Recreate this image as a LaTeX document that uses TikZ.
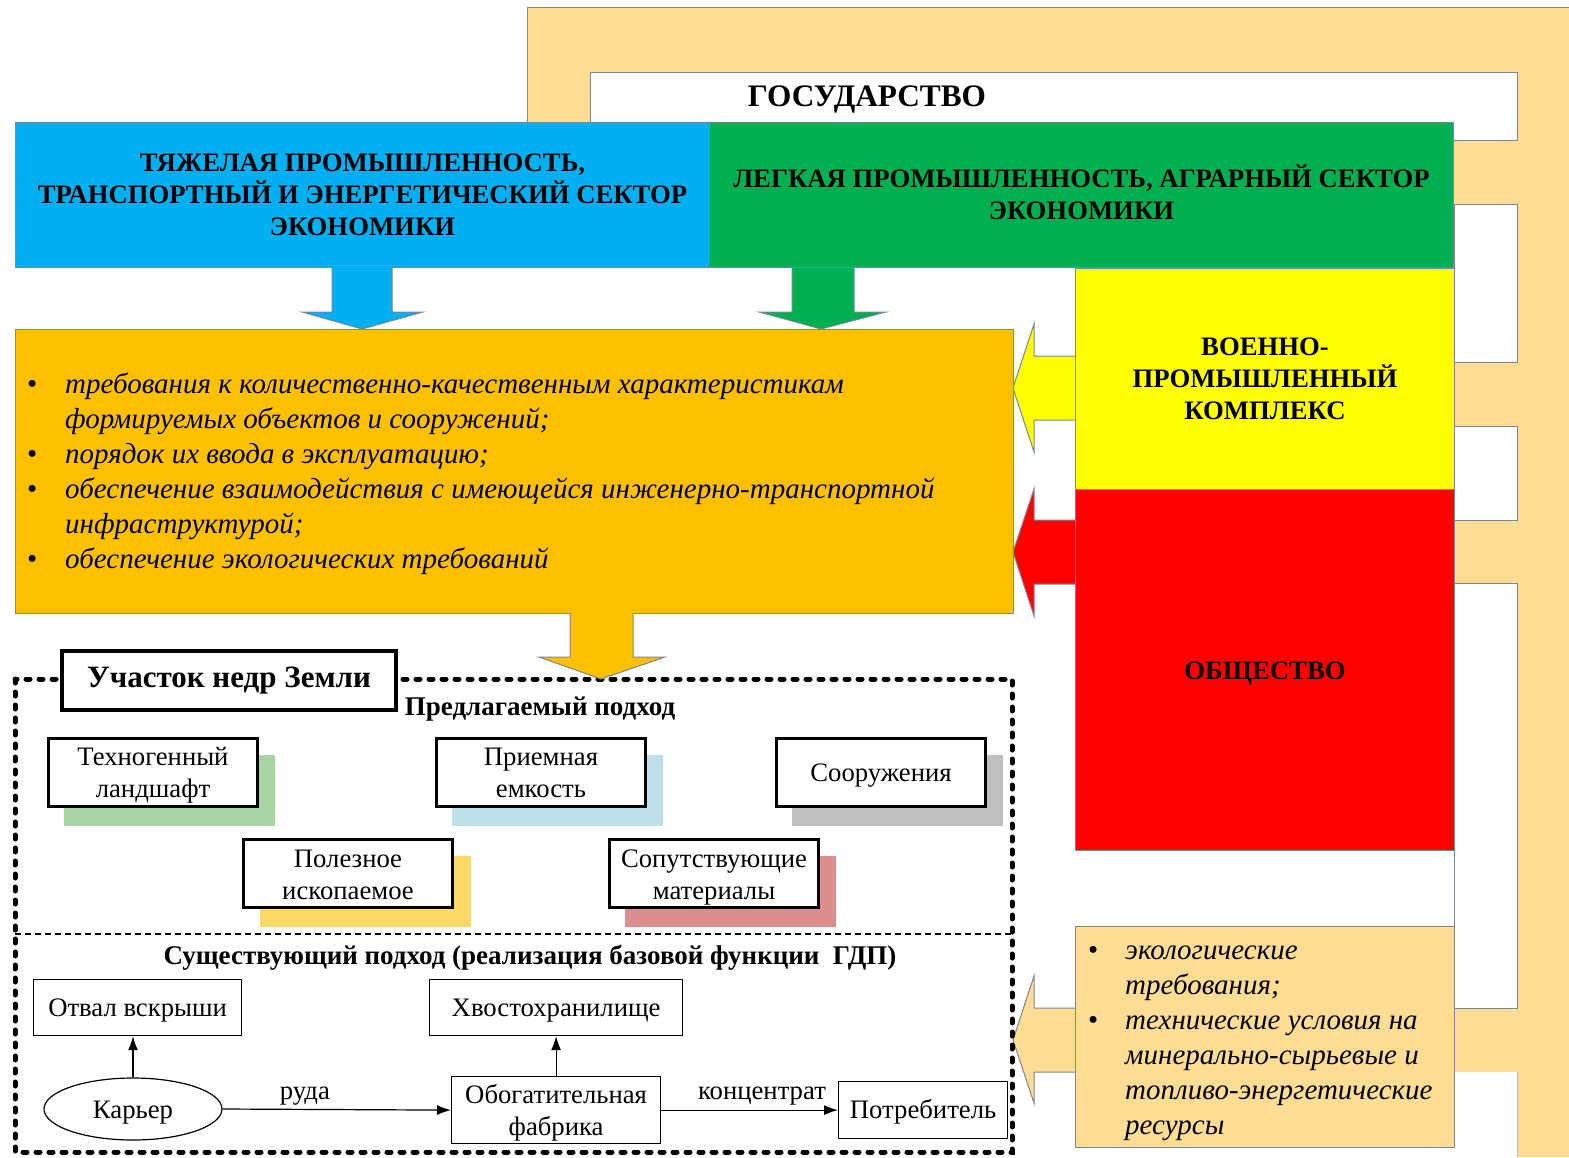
\documentclass[tikz,border=0pt]{standalone}
\usepackage{fontspec}
\setmainfont{Liberation Serif}
\usetikzlibrary{arrows.meta,calc,shapes.geometric}

\definecolor{cblue}{HTML}{00B0F0}
\definecolor{cgreen}{HTML}{00B050}
\definecolor{cyellow}{HTML}{FFFF00}
\definecolor{cred}{HTML}{FF0000}
\definecolor{corange}{HTML}{FFC000}
\definecolor{cbeige}{HTML}{FFDD95}
\definecolor{edge}{HTML}{7A8699}
\definecolor{shgreen}{HTML}{A8D4A8}
\definecolor{shblue}{HTML}{BDE1EA}
\definecolor{shgray}{HTML}{BFBFBF}
\definecolor{shyellow}{HTML}{FFD966}
\definecolor{shpink}{HTML}{DC8E8E}

\tikzset{
  panel/.style={draw=edge, line width=1pt, inner sep=0pt, anchor=north west},
  capsfont/.style={font={\fontsize{26.7}{32}\selectfont\bfseries}, align=center},
  capsbold/.style={capsfont},
  % caption placed at the centre of a box, shifted by #1 to sit on the optical middle
  caps/.style 2 args={label={[capsfont, yshift=#1]center:{#2}}},
  plainfont/.style={font={\fontsize{26.7}{32}\selectfont}, align=center},
  txt/.style 2 args={label={[plainfont, yshift=#1]center:{#2}}},
  blockarrow/.style={draw=edge, line width=1pt, line join=miter},
  itembox/.style={draw=black, line width=3pt, fill=white, inner sep=0pt, anchor=north west,
    minimum width=209, minimum height=68},
  shade/.style={inner sep=0pt, anchor=north west, minimum width=211, minimum height=71},
  flowbox/.style={draw=black, line width=1.2pt, fill=white, inner sep=0pt, anchor=north west},
  flow/.style={line width=1.2pt, -{Latex[length=14pt,width=10pt]}},
  dotframe/.style={line width=5pt, line cap=round, dash pattern=on 4pt off 9pt},
  listtext/.style={anchor=west, align=left, inner sep=0pt,
    font={\fontsize{29}{35}\selectfont\itshape}},
  headline/.style={font={\fontsize{27}{32}\selectfont\bfseries}},
  flowlabel/.style={above, inner sep=4pt, font={\fontsize{26.7}{32}\selectfont}},
}
\newcommand\bul[1]{\llap{\makebox[#1][l]{\upshape\textbullet}}}

\begin{document}
\begin{tikzpicture}[x=1pt,y=-1pt]
\useasboundingbox (0,0) rectangle (1569,1157);

% beige frame around the state box
\fill[cbeige] (527,7) rectangle (1569,72);
\fill[cbeige] (527,72) rectangle (590,130);
\fill[cbeige] (1517,7) rectangle (1569,1157);
\fill[cbeige] (1440,140) rectangle (1517,204);
\fill[cbeige] (1440,362) rectangle (1517,426);
\fill[cbeige] (1440,520) rectangle (1517,583);
\fill[cbeige] (1440,1008) rectangle (1517,1072);
\draw[edge, line width=1pt] (1569,7) -- (527,7) -- (527,122);
\draw[edge!60, line width=0.8pt] (1517,1072) -- (1517,1157);

% white gaps of the frame
\node[panel, fill=white, minimum width=927, minimum height=68] (state) at (590,72) {};
\node[panel, fill=white, minimum width=63, minimum height=158] (gap1) at (1454,204) {};
\node[panel, fill=white, minimum width=63, minimum height=94] (gap2) at (1454,426) {};
\node[panel, fill=white, minimum width=63, minimum height=425] (gap3) at (1454,583) {};
\node[font={\fontsize{31.3}{36}\selectfont\bfseries}] (statelbl) at (867,99) {ГОСУДАРСТВО};

% block arrows
\filldraw[blockarrow, fill=cblue] (332,267) -- (332,312) -- (302,312) -- (362,329) -- (423,312) -- (392,312) -- (392,267);
\filldraw[blockarrow, fill=cgreen] (792,267) -- (792,312) -- (759,312) -- (821,329) -- (886,312) -- (854,312) -- (854,267);
\filldraw[blockarrow, fill=cyellow] (1075,356) -- (1034,356) -- (1034,324) -- (1013,388) -- (1034,452) -- (1034,420) -- (1075,420);
\filldraw[blockarrow, fill=cred] (1075,520) -- (1034,520) -- (1034,489) -- (1013,552) -- (1034,616) -- (1034,584) -- (1075,584);
\filldraw[blockarrow, fill=cbeige] (1075,1008) -- (1034,1008) -- (1034,976) -- (1013,1040) -- (1034,1103) -- (1034,1072) -- (1075,1072);

% sector boxes
\node[panel, fill=cblue, minimum width=694, minimum height=145, capsbold] (heavy) at (15,122)
  {ТЯЖЕЛАЯ ПРОМЫШЛЕННОСТЬ,\\ТРАНСПОРТНЫЙ И ЭНЕРГЕТИЧЕСКИЙ СЕКТОР\\ЭКОНОМИКИ};
\node[panel, fill=cgreen, minimum width=744, minimum height=145,
  caps={3pt}{ЛЕГКАЯ ПРОМЫШЛЕННОСТЬ, АГРАРНЫЙ СЕКТОР\\ЭКОНОМИКИ}] (light) at (709,122) {};
\node[panel, fill=cyellow, minimum width=379, minimum height=221, capsbold] (military) at (1075,268)
  {ВОЕННО-\\ПРОМЫШЛЕННЫЙ\\КОМПЛЕКС};
\node[panel, fill=cred, minimum width=379, minimum height=361,
  caps={-3pt}{ОБЩЕСТВО}] (society) at (1075,489) {};
\node[panel, fill=corange, minimum width=998, minimum height=284] (reqs) at (15,329) {};
\node[panel, fill=cbeige, minimum width=379, minimum height=221] (tech) at (1075,926) {};

\node[listtext] (reqlist) at (65,474) {%
  \bul{38pt}требования к количественно-качественным характеристикам\\
  формируемых объектов и сооружений;\\
  \bul{38pt}порядок их ввода в эксплуатацию;\\
  \bul{38pt}обеспечение взаимодействия с имеющейся инженерно-транспортной\\
  инфраструктурой;\\
  \bul{38pt}обеспечение экологических требований};
\node[listtext] (techlist) at (1125,1043) {%
  \bul{37pt}экологические\\
  требования;\\
  \bul{37pt}технические условия на\\
  минерально-сырьевые и\\
  топливо-энергетические\\
  ресурсы};

% subsoil plot frame
\draw[dotframe] (15,679) rectangle (1012,1152);
\draw[line width=1.5pt, dash pattern=on 6pt off 4pt] (15,934) -- (1012,934);
\filldraw[blockarrow, fill=corange] (570,613) -- (570,657) -- (539,657) -- (601,679) -- (665,657) -- (633,657) -- (633,613);
\node[draw=black, line width=4pt, fill=white, anchor=north west, inner sep=0pt,
  minimum width=334, minimum height=59, font={\fontsize{31}{36}\selectfont\bfseries}] (plot) at (60,649)
  {Участок недр Земли};
\node[headline] (proposed) at (540,709) {Предлагаемый подход};
\node[headline] (existing) at (530,958)
  {Существующий подход (реализация базовой функции\ \ ГДП)};

% proposed approach elements
\node[shade, fill=shgreen] (sh1) at (64,755) {};
\node[itembox, txt={-3pt}{Техногенный\\ландшафт}] (landscape) at (47,737) {};
\node[shade, fill=shblue] (sh2) at (452,755) {};
\node[itembox, txt={0pt}{Приемная\\емкость}] (capacity) at (435,737) {};
\node[shade, fill=shgray] (sh3) at (792,755) {};
\node[itembox, txt={-3pt}{Сооружения}] (structures) at (775,737) {};
\node[shade, fill=shyellow] (sh4) at (260,856) {};
\node[itembox, txt={-1.5pt}{Полезное\\ископаемое}] (mineral) at (242,838) {};
\node[shade, fill=shpink] (sh5) at (625,856) {};
\node[itembox, txt={-4pt}{Сопутствующие\\материалы}] (materials) at (608,838) {};

% existing approach flow
\node[flowbox, minimum width=208, minimum height=56, txt={-3pt}{Отвал вскрыши}] (dump) at (33,979) {};
\node[flowbox, minimum width=253, minimum height=56, txt={-3pt}{Хвостохранилище}] (tailings) at (429,979) {};
\node[draw=black, line width=1.2pt, fill=white, ellipse, inner sep=0pt, minimum width=178, minimum height=62,
  txt={-4pt}{Карьер}] (pit) at (133,1109) {};
\node[flowbox, minimum width=209, minimum height=67, txt={-3pt}{Обогатительная\\фабрика}] (plant) at (451,1076) {};
\node[flowbox, minimum width=169, minimum height=57, txt={-2pt}{Потребитель}] (consumer) at (838,1081) {};

\draw[flow] (pit.north) -- (pit.north |- dump.south);
\draw[flow] (plant.north) -- (tailings.south);
\draw[flow] (pit.east) -- (plant.west) node[pos=0.36, flowlabel] {руда};
\draw[flow] (plant.east) -- (consumer.west) node[pos=0.57, flowlabel] {концентрат};
\end{tikzpicture}
\end{document}
